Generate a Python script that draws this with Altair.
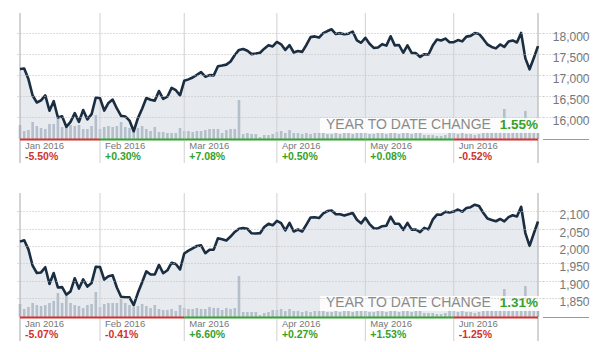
import altair as alt
import pandas as pd

FONT = "Liberation Sans"
RED = "#d3312b"
GREEN = "#35a12a"
LINE = "#1b2d40"
AREA = "#e7ebf0"
BAR = "#b4bfcb"
GRID = "#bdbdbd"
VLINE = "#d0d0d0"
EDGE = "#a8a8a8"

months = ["Jan 2016", "Feb 2016", "Mar 2016", "Apr 2016", "May 2016", "Jun 2016"]
month_start = [0, 19, 39, 61, 82, 103]
month_end = [19, 39, 61, 82, 103, 123]
edges = [0, 123]

dow_month_chg = [-5.50, 0.30, 7.08, 0.50, 0.08, -0.52]
spx_month_chg = [-5.07, -0.41, 6.60, 0.27, 1.53, -1.25]
dow_ytd = "1.55%"
spx_ytd = "1.31%"

dow_ticks = [16000, 16500, 17000, 17500, 18000]
spx_ticks = [1850, 1900, 1950, 2000, 2050, 2100]

dow_close = [
    17148.94, 17158.66, 16906.51, 16514.10, 16346.45, 16398.57, 16516.22, 16151.41, 16379.05, 15988.08,
    16016.02, 15766.74, 15882.68, 16093.51, 15885.22, 16167.23, 15944.46, 16069.64, 16466.30,
    16449.18, 16153.54, 16336.66, 16416.58, 16204.97, 16027.05, 16014.38, 15914.74, 15660.18, 15973.84,
    16196.41, 16453.83, 16413.43, 16391.99, 16620.66, 16431.78, 16484.99, 16697.29, 16639.97, 16516.50,
    16865.08, 16899.32, 16943.90, 17006.77, 17073.95, 16964.10, 17000.36, 16995.13, 17213.31, 17229.13,
    17251.53, 17325.76, 17481.49, 17602.30, 17623.87, 17582.57, 17502.59, 17515.73, 17535.39, 17633.11,
    17716.66, 17685.09,
    17792.75, 17737.00, 17603.32, 17716.05, 17541.96, 17576.96, 17556.41, 17721.25, 17908.28, 17926.43,
    17897.46, 18004.16, 18053.60, 18096.27, 17982.52, 18003.75, 17977.24, 17990.32, 18041.55, 17830.76,
    17773.64,
    17891.16, 17750.91, 17651.26, 17660.71, 17740.63, 17705.91, 17928.35, 17711.12, 17720.50, 17535.32,
    17710.71, 17529.98, 17526.62, 17435.40, 17500.94, 17492.93, 17706.05, 17851.51, 17828.29, 17873.22,
    17787.20,
    17789.67, 17838.56, 17807.06, 17920.33, 17938.28, 18005.05, 17985.19, 17865.34, 17732.48, 17674.82,
    17640.17, 17733.10, 17675.16, 17804.87, 17829.73, 17780.83, 18011.07, 17400.75, 17140.24, 17409.72,
    17694.68,
]

spx_close = [
    2012.66, 2016.71, 1990.26, 1943.09, 1922.03, 1923.67, 1938.68, 1890.28, 1921.84, 1880.33,
    1881.33, 1859.33, 1868.99, 1906.90, 1877.08, 1903.63, 1882.95, 1893.36, 1940.24,
    1939.38, 1903.03, 1912.53, 1915.45, 1880.05, 1853.44, 1852.21, 1851.86, 1829.08, 1864.78,
    1895.58, 1926.82, 1917.83, 1917.78, 1945.50, 1921.27, 1929.80, 1951.70, 1948.05, 1932.23,
    1978.35, 1986.45, 1993.40, 1999.99, 2001.76, 1979.26, 1989.26, 1989.57, 2022.19, 2019.64,
    2015.93, 2027.22, 2040.59, 2049.58, 2051.60, 2049.80, 2036.71, 2035.94, 2037.05, 2055.01,
    2063.95, 2059.74,
    2072.78, 2066.13, 2045.17, 2066.66, 2041.91, 2047.60, 2041.99, 2061.72, 2082.42, 2082.78,
    2080.73, 2094.34, 2100.80, 2102.40, 2091.48, 2091.58, 2087.79, 2091.70, 2095.15, 2075.81,
    2065.30,
    2081.43, 2063.37, 2051.12, 2050.63, 2057.14, 2058.69, 2084.39, 2064.46, 2064.11, 2046.61,
    2066.66, 2047.21, 2047.63, 2040.04, 2052.32, 2048.04, 2076.06, 2090.54, 2090.10, 2099.06,
    2096.95,
    2099.33, 2105.26, 2099.13, 2109.41, 2112.13, 2119.12, 2115.48, 2096.07, 2079.06, 2075.32,
    2071.50, 2077.99, 2071.22, 2083.25, 2088.90, 2085.45, 2113.32, 2037.41, 2000.54, 2036.09,
    2070.77,
]

# relative volume (read as bar heights)
dow_volume = [
    14, 8, 9, 17, 13, 11, 10, 15, 15, 21, 12, 13, 14, 13, 14, 10, 10, 13, 24,
    10, 12, 13, 12, 13, 17, 12, 11, 9, 11, 13, 10, 8, 12, 7, 7, 6, 6, 6, 11,
    8, 8, 7, 8, 8, 9, 10, 10, 10, 6, 9, 10, 10, 39, 5, 6, 5, 5, 2, 4, 4, 5,
    7, 8, 6, 9, 6, 6, 5, 6, 5, 6, 6, 6, 5, 5, 6, 5, 6, 6, 5, 6, 6,
    6, 5, 5, 6, 6, 5, 6, 6, 5, 6, 6, 5, 6, 6, 4, 4, 4, 3, 3, 4, 6,
    6, 5, 6, 5, 5, 4, 5, 6, 7, 7, 7, 7, 30, 6, 7, 7, 7, 28, 8, 7, 6,
]
spx_volume = [
    13, 8, 10, 14, 12, 11, 12, 14, 16, 24, 14, 21, 14, 12, 11, 9, 12, 13, 25,
    10, 13, 14, 14, 14, 18, 14, 12, 10, 11, 13, 11, 9, 12, 8, 7, 7, 8, 6, 12,
    9, 8, 8, 9, 8, 8, 10, 9, 9, 7, 9, 8, 9, 41, 5, 5, 5, 5, 2, 4, 5, 7,
    7, 8, 6, 8, 6, 6, 5, 6, 5, 6, 6, 6, 5, 5, 6, 5, 6, 6, 5, 6, 6,
    6, 5, 5, 6, 6, 5, 6, 6, 5, 6, 6, 5, 6, 6, 4, 4, 4, 3, 3, 4, 6,
    6, 5, 6, 5, 5, 4, 5, 6, 7, 7, 7, 7, 28, 6, 7, 7, 7, 31, 8, 7, 6,
]

XS = alt.Scale(domain=[0, 123], nice=False, zero=False)
BAND = 24  # label band below the plot


def panel(close, vol, top_val, base_val, yvals, hp, ytd, chg):
    h = hp + BAND
    per_px = (top_val - base_val) / hp
    bottom_val = top_val - h * per_px
    df = pd.DataFrame({"i": list(range(len(close))), "close": close, "vol": vol})
    ys = alt.Scale(domain=[bottom_val, top_val], nice=False, zero=False)
    x = alt.X("i:Q", scale=XS, axis=None)

    area = alt.Chart(df).mark_area(color=AREA).encode(
        x=x,
        y=alt.Y("close:Q", scale=ys, axis=alt.Axis(
            orient="right", values=yvals, format=",.0f", title=None,
            grid=True, gridColor=GRID, gridDash=[1, 2], domain=False,
            ticks=True, tickSize=46, tickDash=[1, 2], tickColor=GRID,
            labelPadding=0, labelAlign="right", labelBaseline="middle", labelOffset=3.5,
            labelFont=FONT, labelFontSize=12, labelColor="#777777", zindex=1)),
        y2=alt.datum(base_val),
    )
    bars = alt.Chart(df).mark_bar(color=BAR, size=2.6).encode(
        x=x,
        y=alt.Y("vol:Q", scale=alt.Scale(domain=[-BAND, hp], nice=False, zero=False), axis=None),
        y2=alt.datum(0),
    )
    inner_df = pd.DataFrame({"s": month_start[1:]})
    edge_df = pd.DataFrame({"s": edges})
    vrules = alt.Chart(inner_df).mark_rule(color=VLINE).encode(x=alt.X("s:Q", scale=XS, axis=None))
    erules = alt.Chart(edge_df).mark_rule(color=EDGE).encode(x=alt.X("s:Q", scale=XS, axis=None))
    line = alt.Chart(df).mark_line(color=LINE, strokeWidth=2.6, strokeJoin="round").encode(
        x=x, y=alt.Y("close:Q", scale=ys, axis=None)
    )
    one = alt.Chart(pd.DataFrame({"t": ["YEAR TO DATE CHANGE"], "p": [ytd]}))
    box = one.mark_rect(color="white", opacity=0.85).encode(
        x=alt.value(305), x2=alt.value(527), y=alt.value(hp - 21), y2=alt.value(hp - 6)
    )
    t1 = one.mark_text(align="left", baseline="alphabetic", font=FONT, fontSize=14, color="#8a8a8a").encode(
        x=alt.value(311), y=alt.value(hp - 10), text="t:N"
    )
    t2 = one.mark_text(align="right", baseline="alphabetic", font=FONT, fontSize=13.5, fontWeight="bold", color=GREEN).encode(
        x=alt.value(523), y=alt.value(hp - 10), text="p:N"
    )

    mdf = pd.DataFrame({
        "m": months, "s": month_start, "e": month_end,
        "lbl": [f"{c:+.2f}%" for c in chg],
        "sign": ["neg" if c < 0 else "pos" for c in chg],
    })
    xm = alt.X("s:Q", scale=XS, axis=None)
    col = alt.Color("sign:N", scale=alt.Scale(domain=["neg", "pos"], range=[RED, GREEN]), legend=None)
    ext = alt.Chart(pd.DataFrame({"k": [0]})).mark_rule(color="#9a9a9a").encode(
        x=alt.value(528), x2=alt.value(574), y=alt.value(hp + 0.5)
    )
    base = alt.Chart(mdf).mark_rule(strokeWidth=2).encode(x=xm, x2="e:Q", y=alt.value(hp + 0.5), color=col)
    names = alt.Chart(mdf).mark_text(align="left", baseline="middle", dx=5, font=FONT, fontSize=9.5, color="#777777").encode(
        x=xm, y=alt.value(hp + 6.5), text="m:N"
    )
    pct = alt.Chart(mdf).mark_text(align="left", baseline="middle", dx=5, font=FONT, fontSize=10.5, fontWeight="bold").encode(
        x=xm, y=alt.value(hp + 18), text="lbl:N", color=col
    )
    return alt.layer(area, bars, vrules, erules, line, box, t1, t2, ext, base, names, pct).resolve_scale(
        y="independent", color="independent"
    ).properties(width=528, height=h)


top = panel(dow_close, dow_volume, 18485, 15475, dow_ticks, 126, dow_ytd, dow_month_chg)
bottom = panel(spx_close, spx_volume, 2153, 1795, spx_ticks, 124, spx_ytd, spx_month_chg)

chart = alt.vconcat(top, bottom, spacing=28).properties(
    padding={"left": 15, "top": 12, "right": 5, "bottom": 5},
    background="white",
).configure_view(stroke=None)

chart.save("out.html", embed_options={"renderer": "svg", "actions": False})
